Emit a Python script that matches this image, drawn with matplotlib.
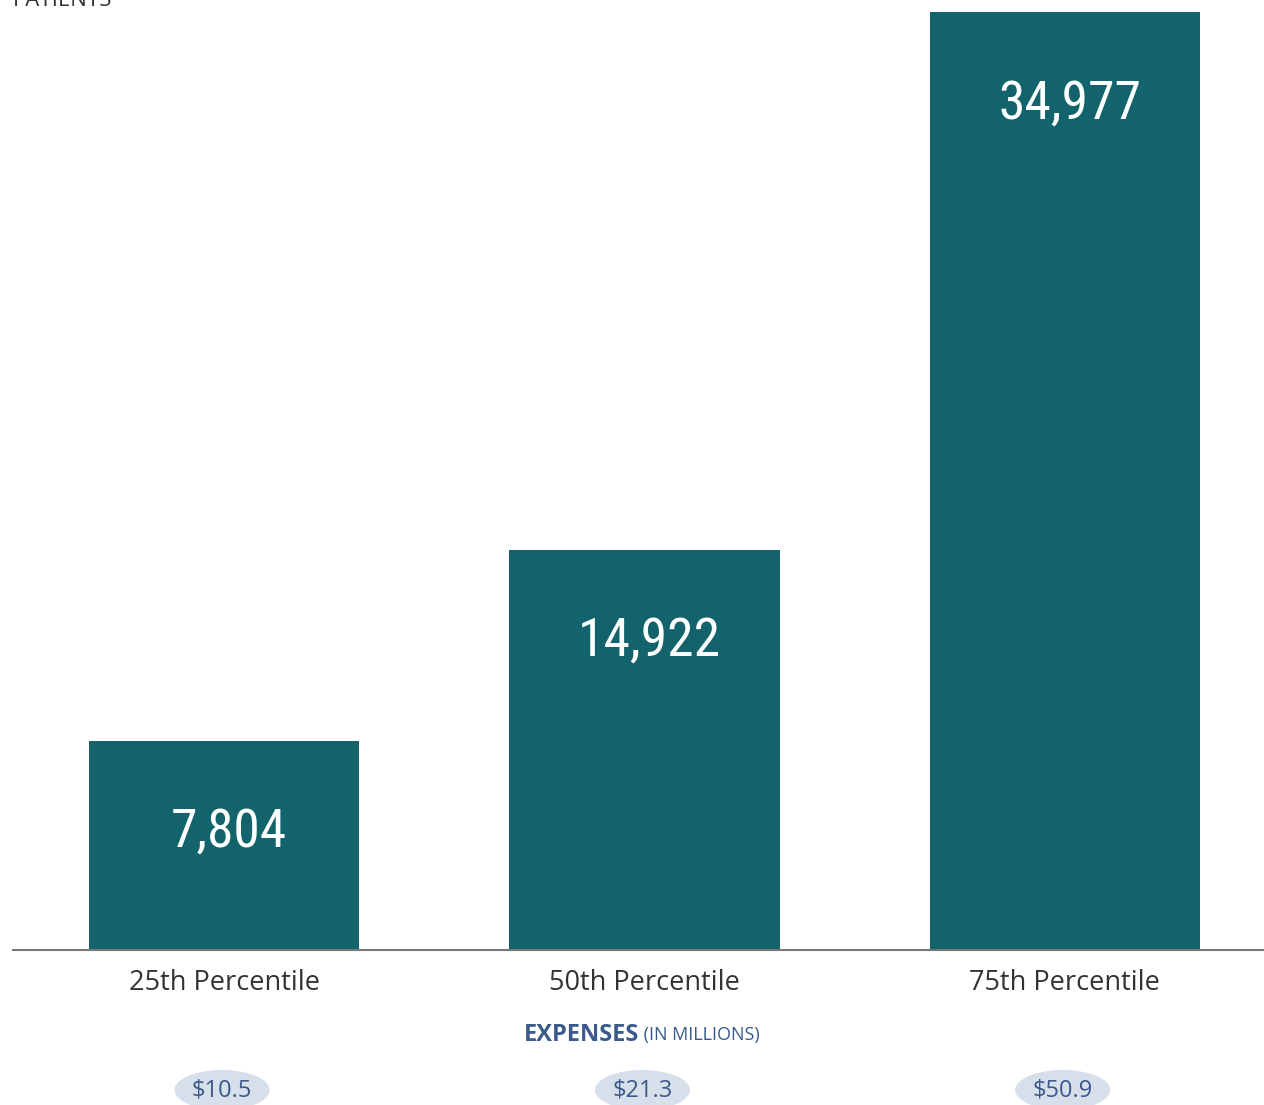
import matplotlib
matplotlib.use("Agg")
import matplotlib.pyplot as plt
from matplotlib.patches import Ellipse
import matplotlib.transforms as mtransforms
from matplotlib import font_manager as fm

categories = ["25th Percentile", "50th Percentile", "75th Percentile"]
patients = [7804, 14922, 34977]
expenses = [10.5, 21.3, 50.9]


def pick_narrow():
    cands = [("Liberation Sans Narrow", "normal"), ("Roboto Condensed", "normal"),
             ("Noto Sans Condensed", "normal"), ("Open Sans Condensed", "normal"),
             ("DejaVu Sans Condensed", "normal"), ("Noto Sans", "condensed"),
             ("DejaVu Sans", "condensed")]
    for fam, st in cands:
        try:
            p = fm.findfont(fm.FontProperties(family=fam, stretch=st), fallback_to_default=False)
        except Exception:
            continue
        low = p.lower()
        if "condensed" in low or "narrow" in low:
            return fam, st, 38.5
    return "Open Sans", "normal", 34


nfam, nstretch, nsize = pick_narrow()

W, H = 1264, 1105
fig = plt.figure(figsize=(W / 100, H / 100), dpi=100)
ax = fig.add_axes([13 / W, (H - 950) / H, (W - 13) / W, (950 - 12) / H])

bar_color = "#12636c"
blue = "#3a5a8c"
x = list(range(len(categories)))
ax.bar(x, patients, width=270 / 420, color=bar_color, zorder=2)
ax.set_xlim(-211 / 420, 2 + 199 / 420)
ax.set_ylim(0, max(patients))

for xi, v in zip(x, patients):
    ax.annotate(f"{v:,}", (xi + 0.012, v), xytext=(0, -66), textcoords="offset points",
                ha="center", va="center", color="white", fontsize=nsize,
                family=[nfam, "DejaVu Sans"], fontstretch=nstretch)

for s in ["top", "right", "left"]:
    ax.spines[s].set_visible(False)
ax.spines["bottom"].set_color("#777777")
ax.spines["bottom"].set_linewidth(1.5)
ax.set_yticks([])
ax.set_xticks(x)
ax.set_xticklabels(categories, fontsize=19.5, color="#333333", family="Open Sans")
ax.tick_params(axis="x", length=0, pad=14)

fig.text(13 / W, 1 - 6 / H, "PATIENTS", fontsize=16, color="#333333",
         family="Open Sans", va="baseline", ha="left")

trans = mtransforms.blended_transform_factory(ax.transData, fig.transFigure)
cy = (H - 1090) / H
for xi, e in zip(x, expenses):
    ell = Ellipse((xi - 0.005, cy), 95 / 420, 40 / H, transform=trans,
                  facecolor="#d6dfea", edgecolor="none", clip_on=False)
    ax.add_patch(ell)
    ax.text(xi - 0.005, cy, f"${e}", transform=trans, ha="center", va="center",
            fontsize=17, color=blue, family="Open Sans", clip_on=False)

ty = (H - 1035) / H
t1 = fig.text(0, ty, "EXPENSES", fontsize=17, fontweight="bold", color=blue,
              family="Open Sans", va="center", ha="left")
t2 = fig.text(0, ty, " (IN MILLIONS)", fontsize=13, color=blue,
              family="Open Sans", va="center", ha="left")
fig.canvas.draw()
r = fig.canvas.get_renderer()
w1 = t1.get_window_extent(r).width
w2 = t2.get_window_extent(r).width
start = 642 - (w1 + w2) / 2
t1.set_x(start / W)
t2.set_x((start + w1) / W)

fig.savefig("out.png", dpi=100)
